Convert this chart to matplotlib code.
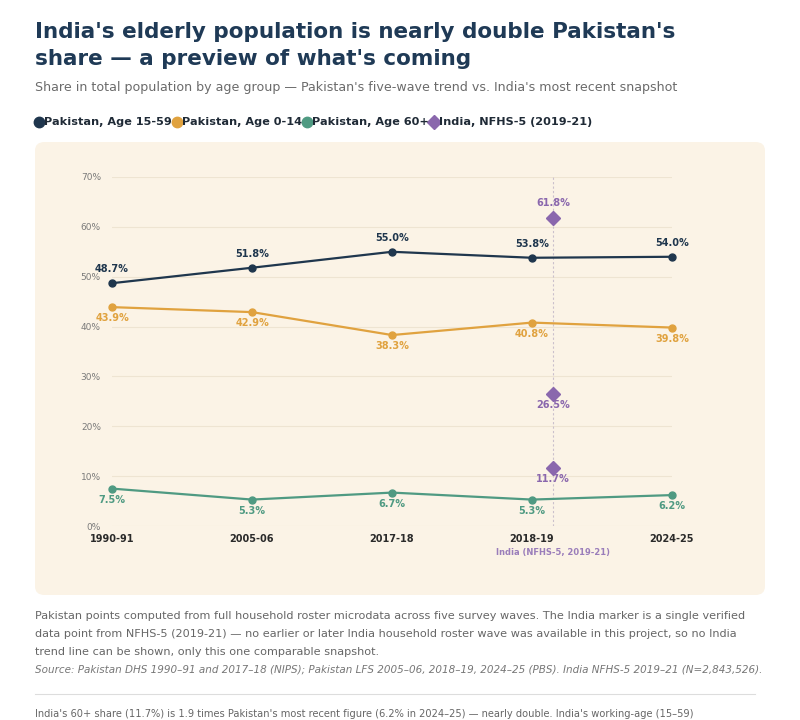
import matplotlib
matplotlib.use('Agg')
import matplotlib.pyplot as plt
from matplotlib.patches import FancyBboxPatch
from matplotlib.lines import Line2D

# ---------------- data ----------------
waves = ['1990-91', '2005-06', '2017-18', '2018-19', '2024-25']
pak_15_59 = [48.7, 51.8, 55.0, 53.8, 54.0]
pak_0_14 = [43.9, 42.9, 38.3, 40.8, 39.8]
pak_60 = [7.5, 5.3, 6.7, 5.3, 6.2]
india_vals = [61.8, 26.5, 11.7]          # 15-59, 0-14, 60+
india_label = 'India (NFHS-5, 2019-21)'
yticks = [0, 10, 20, 30, 40, 50, 60, 70]
legend_labels = ['Pakistan, Age 15-59', 'Pakistan, Age 0-14',
                 'Pakistan, Age 60+', 'India, NFHS-5 (2019-21)']

NAVY = '#1f364d'
GOLD = '#e0a23f'
GREEN = '#4f9a82'
PURPLE = '#8a67ad'
TITLE = '#1f3a56'
CARD = '#fbf3e6'
GRID = '#eee4d2'

plt.rcParams['font.family'] = ['DejaVu Sans']

W, H = 800, 720
fig = plt.figure(figsize=(W / 100, H / 100), dpi=100)
fig.patch.set_facecolor('white')

def fx(px):
    return px / W

def fy(py):
    return 1 - py / H

# card
card = FancyBboxPatch((fx(35), fy(595)), fx(765) - fx(35), fy(142) - fy(595),
                      boxstyle='round,pad=0,rounding_size=0.012',
                      transform=fig.transFigure, facecolor=CARD, edgecolor='none',
                      zorder=-10)
fig.patches.append(card)

# titles
fig.text(fx(35), fy(32), "India's elderly population is nearly double Pakistan's",
         fontsize=15.5, fontweight='bold', color=TITLE, va='center', ha='left')
fig.text(fx(35), fy(59), "share — a preview of what's coming",
         fontsize=15.5, fontweight='bold', color=TITLE, va='center', ha='left')
fig.text(fx(35), fy(87),
         "Share in total population by age group — Pakistan's five-wave trend vs. India's most recent snapshot",
         fontsize=9.1, color='#6b6b6b', va='center', ha='left')

# axes
ax = fig.add_axes([fx(112), fy(526), fx(672) - fx(112), fy(177) - fy(526)])
ax.set_zorder(2)
ax.set_facecolor('none')
x = list(range(len(waves)))
ax.set_xlim(0, len(waves) - 1)
ax.set_ylim(0, 70)
for s in ax.spines.values():
    s.set_visible(False)
ax.set_yticks(yticks)
ax.set_yticklabels([f'{v}%' for v in yticks], fontsize=6.5, color='#7a7a7a')
ax.set_xticks(x)
ax.set_xticklabels(waves, fontsize=7, fontweight='bold', color='#2a2a2a')
ax.tick_params(axis='both', length=0)
ax.tick_params(axis='y', pad=8)
ax.tick_params(axis='x', pad=6)
ax.grid(axis='y', color=GRID, linewidth=0.8)
ax.grid(axis='x', visible=False)
ax.set_axisbelow(True)

series = [(pak_15_59, NAVY, 10), (pak_0_14, GOLD, -8), (pak_60, GREEN, -8)]
for vals, col, off in series:
    ax.plot(x, vals, color=col, linewidth=1.6, marker='o', markersize=5,
            clip_on=False, zorder=3)
    for xi, v in zip(x, vals):
        ax.annotate(f'{v:.1f}%', (xi, v), xytext=(0, off), textcoords='offset points',
                    ha='center', va='center', fontsize=7, fontweight='bold',
                    color=col, zorder=4, annotation_clip=False)

# India snapshot
xi_india = 3.15
ax.axvline(xi_india, color='#cbc0cc', linewidth=0.8, linestyle=(0, (2, 2)), zorder=1)
ax.plot([xi_india] * len(india_vals), india_vals, linestyle='none', marker='D',
        markersize=7, color=PURPLE, clip_on=False, zorder=5)
india_offsets = [11, -8, -8]
for v, off in zip(india_vals, india_offsets):
    ax.annotate(f'{v:.1f}%', (xi_india, v), xytext=(0, off), textcoords='offset points',
                ha='center', va='center', fontsize=7, fontweight='bold',
                color=PURPLE, zorder=6, annotation_clip=False)
ax.annotate(india_label, (xi_india, 0), xytext=(0, -19), textcoords='offset points',
            ha='center', va='center', fontsize=6, fontweight='bold', color='#9a7dba',
            annotation_clip=False)

# legend (manual, chained)
fig.canvas.draw()
renderer = fig.canvas.get_renderer()
leg_y = fy(122)
cur = 39
leg_colors = [NAVY, GOLD, GREEN, PURPLE]
leg_markers = ['o', 'o', 'o', 'D']
for lab, col, mk in zip(legend_labels, leg_colors, leg_markers):
    fig.add_artist(Line2D([fx(cur)], [leg_y], marker=mk, color=col,
                          markersize=7.5, linestyle='none',
                          transform=fig.transFigure))
    t = fig.text(fx(cur + 5), leg_y, lab, fontsize=8.1, fontweight='bold',
                 color='#1f2a36', va='center', ha='left')
    bb = t.get_window_extent(renderer)
    cur = bb.x1 + 5

# footnotes
note_lines = [
    "Pakistan points computed from full household roster microdata across five survey waves. The India marker is a single verified",
    "data point from NFHS-5 (2019-21) — no earlier or later India household roster wave was available in this project, so no India",
    "trend line can be shown, only this one comparable snapshot.",
]
for i, ln in enumerate(note_lines):
    fig.text(fx(35), fy(616 + 18 * i), ln, fontsize=8.1, color='#666666',
             va='center', ha='left')
fig.text(fx(35), fy(670),
         "Source: Pakistan DHS 1990–91 and 2017–18 (NIPS); Pakistan LFS 2005–06, 2018–19, 2024–25 (PBS). India NFHS-5 2019–21 (N=2,843,526).",
         fontsize=7.5, color='#777777', style='italic', va='center', ha='left')
fig.add_artist(Line2D([fx(35), fx(755)], [fy(694), fy(694)], color='#dddddd',
                      linewidth=0.8, transform=fig.transFigure))
fig.text(fx(35), fy(714),
         "India's 60+ share (11.7%) is 1.9 times Pakistan's most recent figure (6.2% in 2024–25) — nearly double. India's working-age (15–59)",
         fontsize=7.1, color='#666666', va='center', ha='left')

fig.savefig('out.png', dpi=100, facecolor='white')
